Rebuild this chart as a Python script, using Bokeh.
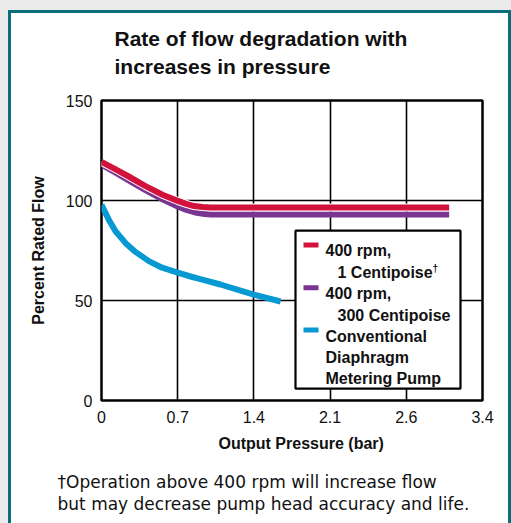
import numpy as np
from bokeh.plotting import figure
from bokeh.models import Range1d, FixedTicker, Label, Title
from bokeh.embed import file_html
from bokeh.resources import INLINE

# ---------------- data ----------------
tick_values = [0, 0.7, 1.4, 2.1, 2.6, 3.4]
tick_labels = ["0", "0.7", "1.4", "2.1", "2.6", "3.4"]
y_ticks = [0, 50, 100, 150]

red_pressure = [0, 0.13, 0.25, 0.40, 0.56, 0.70, 0.78, 0.85, 0.93, 1.0, 1.4, 2.1, 2.6, 3.05]
red_flow = [119.3, 115.6, 112.0, 107.3, 102.9, 99.8, 98.3, 97.2, 96.7, 96.5, 96.5, 96.5, 96.5, 96.5]

purple_pressure = [0, 0.13, 0.25, 0.40, 0.56, 0.70, 0.78, 0.86, 0.95, 1.0, 1.4, 2.1, 2.6, 3.05]
purple_flow = [118.0, 113.9, 110.1, 105.3, 100.6, 97.0, 95.3, 94.0, 93.2, 93.0, 93.0, 93.0, 93.0, 93.0]

blue_pressure = [0, 0.067, 0.129, 0.22, 0.312, 0.435, 0.557, 0.70, 0.818, 0.909, 1.093, 1.277, 1.40, 1.645]
blue_flow = [97.8, 90.4, 84.6, 78.8, 74.3, 69.7, 66.4, 63.9, 62.0, 60.7, 58.0, 54.9, 52.9, 49.5]

legend_labels = ["400 rpm,", "1 Centipoise", "400 rpm,", "300 Centipoise",
                 "Conventional", "Diaphragm", "Metering Pump"]
title_text = "Rate of flow degradation with\nincreases in pressure"
x_label = "Output Pressure (bar)"
y_label = "Percent Rated Flow"
footnote = "\u2020Operation above 400 rpm will increase flow\nbut may decrease pump head accuracy and life."

RED = "#d3123c"
PURPLE = "#7a3593"
BLUE = "#0799d2"
TEAL = "#0b6f7a"
INK = "#111111"
FONT = "Liberation Sans"

# ---------------- figure ----------------
LIFT = 12  # canvas pulled up under the (transparent) top edge
W, H = 497, 510 + LIFT
ML, MR, MT, MB = 90, 26, 87 + LIFT, 121
p = figure(width=W, height=H, x_range=Range1d(0, 5), y_range=Range1d(0, 150),
           toolbar_location=None, output_backend="svg", title=None,
           min_border_left=ML, min_border_right=MR, min_border_top=MT, min_border_bottom=MB,
           background_fill_color="white", border_fill_color=None)
p.styles = {"margin-top": "-%dpx" % LIFT}

FW = W - ML - MR
FH = H - MT - MB
OX, OY = 11, 13 - LIFT  # page position of canvas origin


def X(px):
    return (px - (OX + ML)) / (FW / 5.0)


def Y(py):
    return ((OY + MT + FH) - py) / (FH / 150.0)


def pos(pressure):
    return np.interp(pressure, tick_values, list(range(len(tick_values))))


p.outline_line_color = "black"
p.outline_line_width = 2.5

for ax in (p.xaxis, p.yaxis):
    ax.axis_line_color = None
    ax.major_tick_line_color = None
    ax.minor_tick_line_color = None
    ax.major_tick_out = 0
    ax.major_tick_in = 0
    ax.minor_tick_out = 0
    ax.minor_tick_in = 0
    ax.major_label_text_font = FONT
    ax.major_label_text_font_size = "16px"
    ax.major_label_text_color = INK

p.xaxis.ticker = FixedTicker(ticks=list(range(len(tick_values))))
p.xaxis.major_label_overrides = {i: t for i, t in enumerate(tick_labels)}
p.xaxis.major_label_standoff = 10
p.yaxis.ticker = FixedTicker(ticks=y_ticks)
p.yaxis.major_label_standoff = 9
p.yaxis.axis_label = y_label
p.yaxis.axis_label_text_font = FONT
p.yaxis.axis_label_text_font_style = "bold"
p.yaxis.axis_label_text_font_size = "16px"
p.yaxis.axis_label_text_color = INK
p.yaxis.axis_label_standoff = 16

p.xgrid.grid_line_color = "black"
p.ygrid.grid_line_color = "black"
p.xgrid.grid_line_width = 1.6
p.ygrid.grid_line_width = 1.6

# series
p.line(pos(blue_pressure), blue_flow, line_color=BLUE, line_width=6, line_join="round")
p.line(pos(purple_pressure), purple_flow, line_color=PURPLE, line_width=6, line_join="round")
p.line(pos(red_pressure), red_flow, line_color="white", line_width=8, line_join="round")
p.line(pos(red_pressure), red_flow, line_color=RED, line_width=6, line_join="round")

# legend box
p.quad(left=[X(295)], right=[X(460)], top=[Y(231)], bottom=[Y(390)],
       fill_color="white", line_color="black", line_width=2.2)
legend_colors = [RED, PURPLE, BLUE]
swatch_y = [245.5, 288.5, 331.0]
for c, sy in zip(legend_colors, swatch_y):
    p.quad(left=[X(303)], right=[X(318)], top=[Y(sy - 2.5)], bottom=[Y(sy + 2.5)],
           fill_color=c, line_color=None)

legend_xy = [(325, 251.5), (337, 273.0), (325, 294.5), (337, 316.0),
             (325, 337.2), (325, 358.6), (325, 380.0)]
for t, (lx, ly) in zip(legend_labels, legend_xy):
    p.add_layout(Label(x=X(lx), y=Y(ly), text=t, text_font=FONT, text_font_style="bold",
                       text_font_size="16px", text_color=INK, text_baseline="alphabetic",
                       text_align="left"))
p.add_layout(Label(x=X(432), y=Y(269.5), text="\u2020", text_font=FONT, text_font_style="bold",
                   text_font_size="10px", text_color=INK, text_baseline="alphabetic"))

# title
p.add_layout(Title(text=title_text, align="left", offset=13, standoff=45,
                   text_font=FONT, text_font_style="bold", text_font_size="21px",
                   text_color=INK, text_line_height=1.2), "above")

# x axis label (as a title below, for horizontal offset control)
p.add_layout(Title(text=x_label, align="left", offset=117, standoff=15,
                   text_font=FONT, text_font_style="bold", text_font_size="16px",
                   text_color=INK), "below")

# footnote
p.add_layout(Title(text=footnote, align="left", offset=-44, standoff=20,
                   text_font="DejaVu Sans", text_font_style="normal", text_font_size="17px",
                   text_color=INK, text_line_height=1.1), "below")

html = file_html(p, INLINE, title="Rate of flow degradation")
style = ("<style>html{margin:0;padding:0;background:#ebebeb;overflow:hidden}"
         "body{margin:10px 0 0 8px;padding:0;background:#ffffff;border:3px solid %s;"
         "border-bottom:none;overflow:visible}</style>" % TEAL)
html = html.replace("</head>", style + "</head>", 1)
open("out.html", "w").write(html)
